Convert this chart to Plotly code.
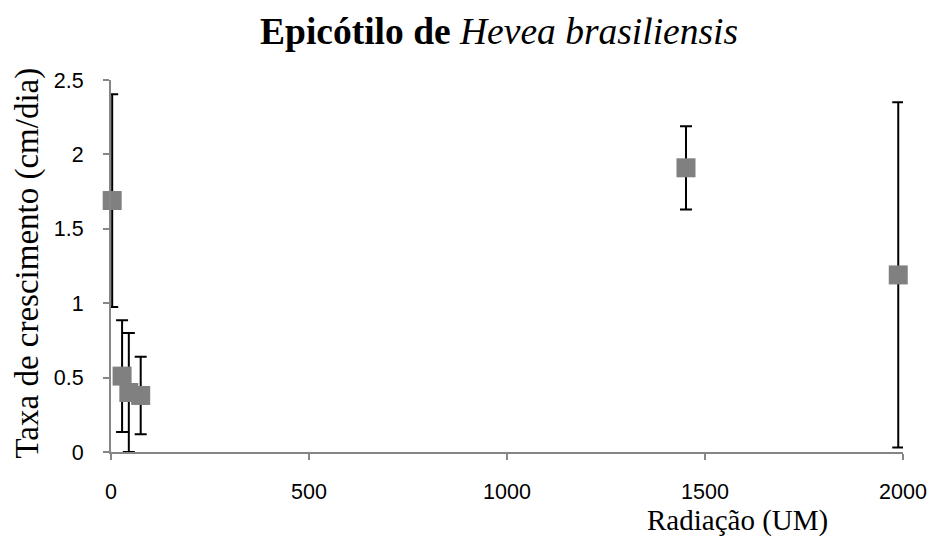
import plotly.graph_objects as go

# Data
radiacao = [3, 28, 45, 75, 1452, 1988]
taxa = [1.69, 0.51, 0.40, 0.38, 1.91, 1.19]
erro = [0.715, 0.375, 0.40, 0.26, 0.28, 1.16]

x_ticks = [0, 500, 1000, 1500, 2000]
y_ticks = [0, 0.5, 1, 1.5, 2, 2.5]

fig = go.Figure()
fig.add_trace(go.Scatter(
    x=radiacao, y=taxa, mode="markers",
    marker=dict(symbol="square", size=19, color="#808080"),
    error_y=dict(type="data", array=erro, visible=True, color="black",
                 thickness=2, width=6),
    cliponaxis=False, showlegend=False,
))

axis_color = "#868686"
tick_font = dict(family="Liberation Sans, Arial, sans-serif", size=21.5, color="black")

fig.update_layout(
    width=931, height=543,
    margin=dict(l=111, r=28, t=80, b=91),
    paper_bgcolor="white", plot_bgcolor="white",
    title=dict(
        text="<b>Epicótilo de </b><i>Hevea brasiliensis</i>",
        font=dict(family="Liberation Serif, Times New Roman, serif", size=37.5, color="black"),
        x=0.49, xref="paper", xanchor="center",
        y=1 - 31 / 543, yref="container", yanchor="middle",
    ),
    xaxis=dict(
        range=[0, 2000], tickvals=x_ticks, ticktext=[str(v) for v in x_ticks],
        showgrid=False, zeroline=False, showline=True, linecolor=axis_color, linewidth=2,
        ticks="outside", ticklen=6, tickcolor=axis_color, tickwidth=2,
        tickfont=tick_font, ticklabelstandoff=13, automargin=False,
    ),
    yaxis=dict(
        range=[0, 2.5], tickvals=y_ticks, ticktext=["0", "0.5", "1", "1.5", "2", "2.5"],
        showgrid=False, zeroline=False, showline=True, linecolor=axis_color, linewidth=2,
        ticks="outside", ticklen=6, tickcolor=axis_color, tickwidth=2,
        tickfont=tick_font, ticklabelstandoff=15, automargin=False,
    ),
    annotations=[
        dict(text="Radiação (UM)", xref="paper", yref="paper",
             x=0.791, y=-0.183, xanchor="center", yanchor="middle", showarrow=False,
             font=dict(family="Liberation Serif, Times New Roman, serif", size=29, color="black")),
        dict(text="Taxa de crescimento (cm/dia)", xref="paper", yref="paper",
             x=-0.105, y=0.509, xanchor="center", yanchor="middle", showarrow=False,
             textangle=-90,
             font=dict(family="Liberation Serif, Times New Roman, serif", size=33, color="black")),
    ],
)

fig.write_html("out.html")
